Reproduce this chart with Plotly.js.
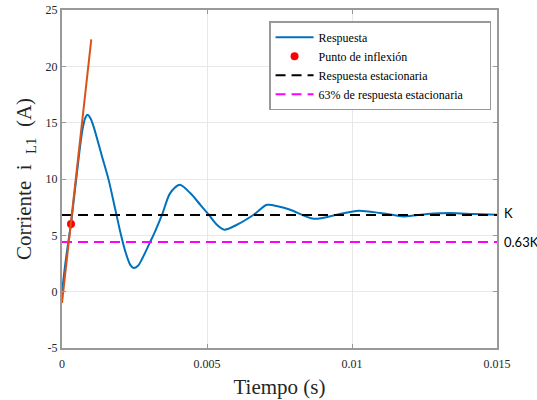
<!DOCTYPE html>
<html>
<head>
<meta charset="utf-8">
<script src="https://cdn.plot.ly/plotly-3.0.1.min.js"></script>
<style>html,body{margin:0;padding:0;background:#fff;}#chart{width:537px;height:400px;}</style>
</head>
<body>
<div id="chart"></div>
<script>
// Respuesta (time in s, current in A)
const tResp = [0, 0.0001, 0.0002, 0.00031, 0.0004, 0.0005, 0.0006, 0.0007, 0.0008, 0.00088, 0.00098, 0.00109, 0.00138, 0.00161, 0.00184, 0.00201, 0.00218, 0.00235, 0.00247, 0.00262, 0.00276, 0.003, 0.00322, 0.00345, 0.00373, 0.00406, 0.00442, 0.00477, 0.00506, 0.00534, 0.0056, 0.00603, 0.00661, 0.00707, 0.00747, 0.00787, 0.00868, 0.00948, 0.01023, 0.01098, 0.01178, 0.01259, 0.0134, 0.0142, 0.015];
const iResp = [0, 2.2, 4.1, 6.0, 8.0, 10.2, 12.4, 14.3, 15.4, 15.7, 15.4, 14.65, 12.0, 9.9, 7.27, 5.3, 3.6, 2.4, 2.1, 2.3, 2.9, 4.2, 5.4, 6.83, 8.75, 9.49, 8.75, 7.71, 6.83, 5.94, 5.5, 5.94, 6.83, 7.71, 7.56, 7.27, 6.47, 6.83, 7.18, 6.98, 6.68, 6.89, 6.98, 6.89, 6.83];
// Punto de inflexión
const tInfl = [0.00031];
const iInfl = [6.0];
// Tangent line at inflection point
const tTan = [0, 0.00101];
const iTan = [-1.0, 22.4];
// Steady-state values
const K = 6.8;
const K63 = 4.4;
const tRange = [0, 0.015];
const xTickVals = [0, 0.005, 0.01, 0.015];
const xTickText = ['0', '0.005', '0.01', '0.015'];
const yTickVals = [-5, 0, 5, 10, 15, 20, 25];
const yTickText = ['-5', '0', '5', '10', '15', '20', '25'];
const seriesNames = ['Respuesta', 'Punto de inflexión', 'Respuesta estacionaria', '63% de respuesta estacionaria'];

const serif = 'Liberation Serif';
const pad = '&nbsp;&nbsp;&nbsp;&nbsp;&nbsp;&nbsp;&nbsp;';

const traces = [
  {x: tResp, y: iResp, mode: 'lines', name: seriesNames[0], line: {color: '#0072BD', width: 2, shape: 'spline', smoothing: 0.8}},
  {x: tInfl, y: iInfl, mode: 'markers', name: seriesNames[1], marker: {color: '#FF0000', size: 8, symbol: 'circle'}},
  {x: tRange, y: [K, K], mode: 'lines', name: seriesNames[2], line: {color: '#000000', width: 2, dash: '10px,6px'}},
  {x: tRange, y: [K63, K63], mode: 'lines', name: seriesNames[3] + pad, line: {color: '#FF00FF', width: 2, dash: '10px,6px'}},
  {x: tTan, y: iTan, mode: 'lines', showlegend: false, line: {color: '#D95319', width: 2}}
];

const layout = {
  width: 537, height: 400,
  margin: {l: 62, r: 40, t: 10, b: 52},
  paper_bgcolor: '#fff', plot_bgcolor: '#fff',
  showlegend: true,
  legend: {
    x: 0.476, y: 0.967, xanchor: 'left', yanchor: 'top',
    bgcolor: '#fff', bordercolor: '#999', borderwidth: 1.5,
    font: {family: serif, size: 12, color: '#000'},
    tracegroupgap: 0, itemwidth: 38
  },
  xaxis: {
    range: tRange, tickvals: xTickVals, ticktext: xTickText,
    showgrid: true, gridcolor: '#e8e8e8', zeroline: false,
    showline: true, linecolor: '#999', linewidth: 2, mirror: 'ticks',
    ticks: 'inside', ticklen: 4, tickcolor: '#999',
    ticklabelstandoff: 4,
    tickfont: {family: serif, size: 12, color: '#262626'},
    title: {text: 'Tiempo (s)', font: {family: serif, size: 21, color: '#262626'}, standoff: 9}
  },
  yaxis: {
    range: [-5, 25], tickvals: yTickVals, ticktext: yTickText,
    showgrid: true, gridcolor: '#e8e8e8', zeroline: false,
    showline: true, linecolor: '#999', linewidth: 2, mirror: 'ticks',
    ticks: 'inside', ticklen: 4, tickcolor: '#999',
    tickfont: {family: serif, size: 12, color: '#262626'},
    title: {text: 'Corriente  i&nbsp;&nbsp;<sub>L1</sub>&nbsp;&nbsp;(A)', font: {family: serif, size: 21, color: '#262626'}, standoff: 8}
  },
  annotations: [
    {xref: 'paper', yref: 'y', x: 1, xshift: 5, y: K + 0.2, text: 'K', showarrow: false, xanchor: 'left', yanchor: 'middle', font: {family: 'Lato', size: 13, color: '#000'}},
    {xref: 'paper', yref: 'y', x: 1, xshift: 5, y: K63, text: '0.63K', showarrow: false, xanchor: 'left', yanchor: 'middle', font: {family: 'Lato', size: 13, color: '#000'}}
  ]
};

Plotly.newPlot('chart', traces, layout, {displayModeBar: false, staticPlot: true});
</script>
</body>
</html>
